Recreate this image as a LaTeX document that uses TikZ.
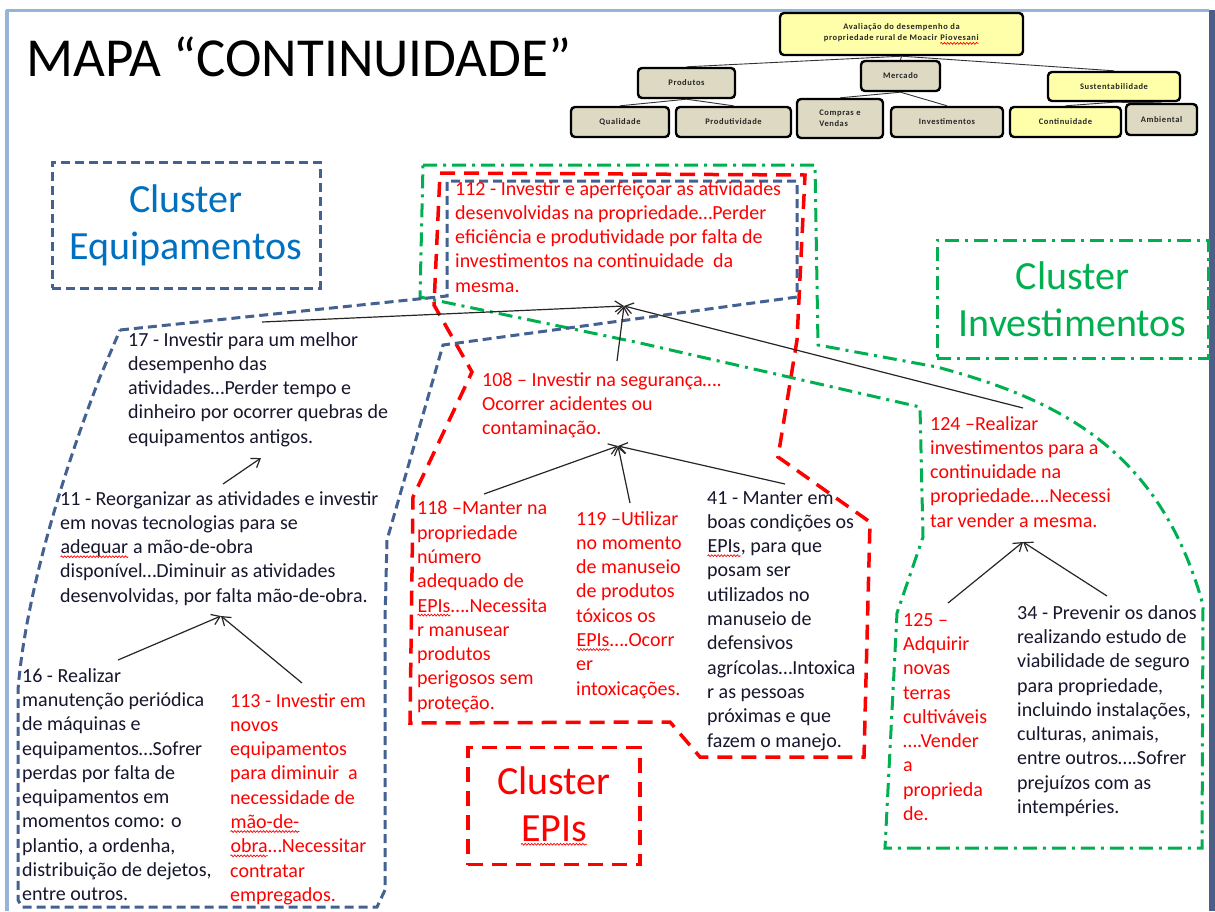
\documentclass[tikz,border=0pt]{standalone}
\usepackage{fontspec}
\setmainfont{Carlito}
\newfontfamily\boxfont[LetterSpace=7.0]{Carlito}
\usetikzlibrary{arrows.meta,decorations.pathmorphing}

\definecolor{eqblue}{RGB}{68,98,145}
\definecolor{eqtext}{RGB}{0,112,192}
\definecolor{epired}{RGB}{255,0,0}
\definecolor{invgreen}{RGB}{0,176,80}
\definecolor{ink}{RGB}{22,22,45}
\definecolor{boxtan}{RGB}{221,217,195}
\definecolor{paleyellow}{RGB}{255,255,170}
\definecolor{framelight}{RGB}{150,180,215}
\definecolor{framedark}{RGB}{75,95,135}

% red wavy underline of a misspelt word
\newcommand\spellmark[1]{\tikz[baseline=(w.base)]{\node[inner sep=0pt,outer sep=0pt,anchor=base,
  minimum width=0pt,minimum height=0pt,draw=none,fill=none,execute at begin node={}](w){#1};%
  \draw[red,solid,sharp corners,line width=0.7pt,decorate,decoration={snake,amplitude=0.9pt,segment length=3.2pt}]([yshift=-3pt]w.base west)--([yshift=-3pt]w.base east);}}

\tikzset{
  hbox/.style={draw=black, line width=2.4pt, rounded corners=4pt, inner sep=0pt,
    align=center, font=\boxfont\bfseries\fontsize{8.5}{11}\selectfont, text=black!85},
  tanbox/.style={hbox, fill=boxtan},
  yelbox/.style={hbox, fill=paleyellow},
  hlink/.style={draw=black!80, line width=0.9pt},
  txt/.style={anchor=north west, inner sep=0pt, align=left,
    font=\fontsize{20}{24.3}\selectfont, execute at begin node={\rule{0pt}{15pt}}},
  clabel/.style={inner sep=0pt, align=center, font=\fontsize{40}{47}\selectfont},
  eqline/.style={draw=eqblue, line width=3pt, dash pattern=on 9pt off 5pt},
  epiline/.style={draw=epired, line width=3.5pt, dash pattern=on 15pt off 9pt},
  invline/.style={draw=invgreen, line width=3pt, dash pattern=on 14pt off 6pt on 3pt off 6pt},
  arr/.style={draw=black!85, line width=1.2pt, -{Straight Barb[length=8pt,width=11pt]}},
}

\begin{document}
\begin{tikzpicture}[x=1pt,y=-1pt]
\useasboundingbox (0,0) rectangle (1215,911);
\fill[white] (0,0) rectangle (1215,911);

% slide frame
\fill[framedark] (1209,10) rectangle (1215,911);
\draw[framelight, line width=3pt] (6,10) -- (1209,10);
\draw[framelight, line width=4pt] (7,10) -- (7,911);

% title
\node[anchor=west, inner sep=0pt, font=\fontsize{55}{60}\selectfont] (title) at (26,57) {MAPA “CONTINUIDADE”};

% hierarchy of criteria
\node[yelbox, minimum width=243pt, minimum height=42pt] (root) at (901.5,34)
  {Avaliação do desempenho da\\propriedade rural de Moacir \spellmark{Piovesani}};
\node[tanbox, minimum width=97pt, minimum height=30pt] (prod) at (686.5,83) {Produtos};
\node[tanbox, minimum width=79pt, minimum height=30pt] (merc) at (900.5,76) {Mercado};
\node[yelbox, minimum width=132pt, minimum height=29pt] (sust) at (1114,86.5) {Sustentabilidade};
\node[tanbox, minimum width=98pt, minimum height=30pt] (qual) at (620,122) {Qualidade};
\node[tanbox, minimum width=115pt, minimum height=30pt] (prtv) at (733.5,122) {Produtividade};
\node[tanbox, minimum width=86pt, minimum height=39pt, align=left] (comp) at (840,118.5) {Compras e\\Vendas};
\node[tanbox, minimum width=112pt, minimum height=30pt] (inve) at (947,122) {Investimentos};
\node[yelbox, minimum width=111pt, minimum height=30pt] (cont) at (1065.5,122) {Continuidade};
\node[tanbox, minimum width=71pt, minimum height=31pt] (ambi) at (1161.5,119.5) {Ambiental};
\draw[hlink] (root.south) -- (prod.north);
\draw[hlink] (root.south) -- (merc.north);
\draw[hlink] (root.south) -- (sust.north);
\draw[hlink] (prod.south) -- (qual.north);
\draw[hlink] (prod.south) -- (prtv.north);
\draw[hlink] (merc.south) -- (comp.north);
\draw[hlink] (merc.south) -- (inve.north);
\draw[hlink] (sust.south) -- (cont.north);
\draw[hlink] (sust.south) -- (ambi.north);

% cluster outlines
\draw[invline] (423,165) -- (815,165) -- (818,345) -- (937,367)
  .. controls (1060,400) and (1160,450) .. (1203,605) -- (1202,848) -- (885,848)
  -- (897,613) -- (923,537) -- (920,407) -- (640,343) -- (420,297) -- cycle;
\draw[epiline] (440,173) -- (805,175) -- (797,340) -- (778,457) -- (870,522)
  -- (864,757) -- (700,757) -- (670,722) -- (410,723) -- (413,497) -- (472,372)
  -- (434,305) -- cycle;
\draw[eqline] (120,330) -- (447,296) -- (447,181) -- (797,181) -- (797,297)
  -- (443,345) -- (387,540) -- (385,620) -- (385,890) -- (377,907) -- (22,907)
  -- (18,900) -- (18,690) .. controls (25,600) and (60,480) .. (100,377) -- cycle;

% cluster labels
\node[clabel, text=eqtext, eqline, minimum width=268pt, minimum height=126pt] (ceq) at (186,225) {Cluster\\Equipamentos};
\node[clabel, text=invgreen, invline, minimum width=271pt, minimum height=118pt] (cinv) at (1072.5,299) {Cluster\\Investimentos};
\node[clabel, text=epired, epiline, minimum width=172pt, minimum height=117pt] (cepi) at (554,806) {Cluster\\\spellmark{EPIs}};

% statements
\node[txt, text=epired] (n112) at (455,181) {112 - Investir e aperfeiçoar as atividades\\desenvolvidas na propriedade…Perder\\eficiência e produtividade por falta de\\investimentos na continuidade\ \ da\\mesma.};
\node[txt, text=ink] (n17) at (128,332) {17 - Investir para um melhor\\desempenho das\\atividades…Perder tempo e\\dinheiro por ocorrer quebras de\\equipamentos antigos.};
\node[txt, text=ink] (n11) at (60,491) {11 - Reorganizar as atividades e investir\\em novas tecnologias para se\\\spellmark{adequar} a mão-de-obra\\disponível…Diminuir as atividades\\desenvolvidas, por falta mão-de-obra.};
\node[txt, text=ink] (n16) at (22,668) {16 - Realizar\\manutenção periódica\\de máquinas e\\equipamentos…Sofrer\\perdas por falta de\\equipamentos em\\momentos como: o\\plantio, a ordenha,\\distribuição de dejetos,\\entre outros.};
\node[txt, text=epired] (n113) at (230,693) {113 - Investir em\\novos\\equipamentos\\para diminuir\ \ a\\necessidade de\\\spellmark{mão-de-}\\\spellmark{obra}…Necessitar\\contratar\\empregados.};
\node[txt, text=epired] (n108) at (482,372) {108 – Investir na segurança….\\Ocorrer acidentes ou\\contaminação.};
\node[txt, text=epired] (n118) at (417,501) {118 –Manter na\\propriedade\\número\\adequado de\\\spellmark{EPIs}….Necessita\\r manusear\\produtos\\perigosos sem\\proteção.};
\node[txt, text=epired] (n119) at (576,511) {119 –Utilizar\\no momento\\de manuseio\\de produtos\\tóxicos os\\\spellmark{EPIs}….Ocorr\\er\\intoxicações.};
\node[txt, text=ink] (n41) at (707,491) {41 - Manter em\\boas condições os\\\spellmark{EPIs}, para que\\posam ser\\utilizados no\\manuseio de\\defensivos\\agrícolas…Intoxica\\r as pessoas\\próximas e que\\fazem o manejo.};
\node[txt, text=epired] (n124) at (930,416) {124 –Realizar\\investimentos para a\\continuidade na\\propriedade….Necessi\\tar vender a mesma.};
\node[txt, text=epired] (n125) at (903,613) {125 –\\Adquirir\\novas\\terras\\cultiváveis\\….Vender\\a\\proprieda\\de.};
\node[txt, text=ink] (n34) at (1017,605) {34 - Prevenir os danos\\realizando estudo de\\viabilidade de seguro\\para propriedade,\\incluindo instalações,\\culturas, animais,\\entre outros….Sofrer\\prejuízos com as\\intempéries.};

% arrow end points
\coordinate (h112) at (624,306);
\coordinate (t17) at (262,322);
\coordinate (t108) at (617,361);
\coordinate (t124) at (1023,408);
\coordinate (h17) at (261,458);
\coordinate (t11) at (223,484);
\coordinate (h11) at (221,616);
\coordinate (t16) at (118,660);
\coordinate (t113) at (302,683);
\coordinate (h108) at (618,446);
\coordinate (t118) at (484,494);
\coordinate (t119) at (630,503);
\coordinate (t41) at (785,484);
\coordinate (h124) at (1023,542);
\coordinate (t125) at (948,603);
\coordinate (t34) at (1107,596);

\draw[arr] (t17) -- (h112);
\draw[arr] (t108) -- (h112);
\draw[arr] (t124) -- (h112);
\draw[arr] (t11) -- (h17);
\draw[arr] (t16) -- (h11);
\draw[arr] (t113) -- (h11);
\draw[arr] (t118) -- (h108);
\draw[arr] (t119) -- (h108);
\draw[arr] (t41) -- (h108);
\draw[arr] (t125) -- (h124);
\draw[arr] (t34) -- (h124);
\end{tikzpicture}
\end{document}
